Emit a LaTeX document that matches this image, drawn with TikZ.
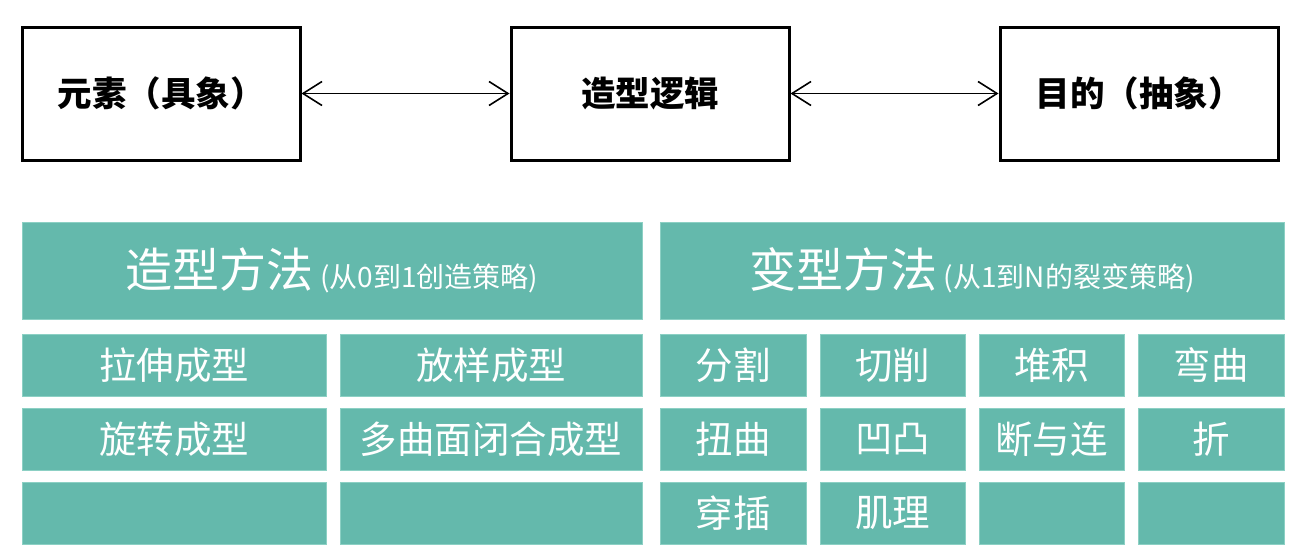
\documentclass[tikz,border=0pt]{standalone}
\usepackage{fontspec}
\newfontfamily\cjk{Noto Sans CJK SC}
\usetikzlibrary{arrows.meta}
\definecolor{tealfill}{RGB}{100,185,172}
\definecolor{tealedge}{RGB}{140,208,196}
\begin{document}
\begin{tikzpicture}[x=1pt,y=-1pt,
  topbox/.style={draw=black,line width=3pt,minimum width=278pt,minimum height=133pt,inner sep=0pt,
    font=\cjk\bfseries\fontsize{34.5}{38}\selectfont},
  cell/.style={fill=tealfill,draw=tealedge,line width=0.6pt,inner sep=0pt,text=white,
    font=\cjk\fontsize{37.5}{42}\selectfont},
  barbtip/.tip={Straight Barb[length=19pt,width=24pt,line width=1.6pt]},
  link/.style={line width=1.6pt,{barbtip}-{barbtip}}
]
\useasboundingbox (0,0) rectangle (1301,557);
% top row
\node[topbox] (elem) at (161,93.5) {元素（具象）};
\node[topbox] (logic) at (650,93.5) {造型逻辑};
\node[topbox] (goal) at (1139,93.5) {目的（抽象）};
\draw[link] (elem.east) -- (logic.west);
\draw[link] (logic.east) -- (goal.west);
% headers
\node[cell,minimum width=620pt,minimum height=97pt] (h1) at (332,270.5)
  {{\fontsize{47}{52}\selectfont 造型方法}{\fontsize{28}{32}\selectfont\ (从0到1创造策略)}};
\node[cell,minimum width=624pt,minimum height=97pt] (h2) at (972,270.5)
  {{\fontsize{47}{52}\selectfont 变型方法}{\fontsize{28}{32}\selectfont\ (从1到N的裂变策略)}};
% left grid
\node[cell,minimum width=304pt,minimum height=62pt] (l11) at (174,365) {拉伸成型};
\node[cell,minimum width=302pt,minimum height=62pt] (l12) at (491,365) {放样成型};
\node[cell,minimum width=304pt,minimum height=62pt] (l21) at (174,439) {旋转成型};
\node[cell,minimum width=302pt,minimum height=62pt] (l22) at (491,439) {多曲面闭合成型};
\node[cell,minimum width=304pt,minimum height=62pt] (l31) at (174,513) {};
\node[cell,minimum width=302pt,minimum height=62pt] (l32) at (491,513) {};
% right grid
\node[cell,minimum width=146pt,minimum height=62pt] (r11) at (733,365) {分割};
\node[cell,minimum width=145pt,minimum height=62pt] (r12) at (892.5,365) {切削};
\node[cell,minimum width=145pt,minimum height=62pt] (r13) at (1051.5,365) {堆积};
\node[cell,minimum width=146pt,minimum height=62pt] (r14) at (1211,365) {弯曲};
\node[cell,minimum width=146pt,minimum height=62pt] (r21) at (733,439) {扭曲};
\node[cell,minimum width=145pt,minimum height=62pt] (r22) at (892.5,439) {凹凸};
\node[cell,minimum width=145pt,minimum height=62pt] (r23) at (1051.5,439) {断与连};
\node[cell,minimum width=146pt,minimum height=62pt] (r24) at (1211,439) {折};
\node[cell,minimum width=146pt,minimum height=62pt] (r31) at (733,513) {穿插};
\node[cell,minimum width=145pt,minimum height=62pt] (r32) at (892.5,513) {肌理};
\node[cell,minimum width=145pt,minimum height=62pt] (r33) at (1051.5,513) {};
\node[cell,minimum width=146pt,minimum height=62pt] (r34) at (1211,513) {};
\end{tikzpicture}
\end{document}
